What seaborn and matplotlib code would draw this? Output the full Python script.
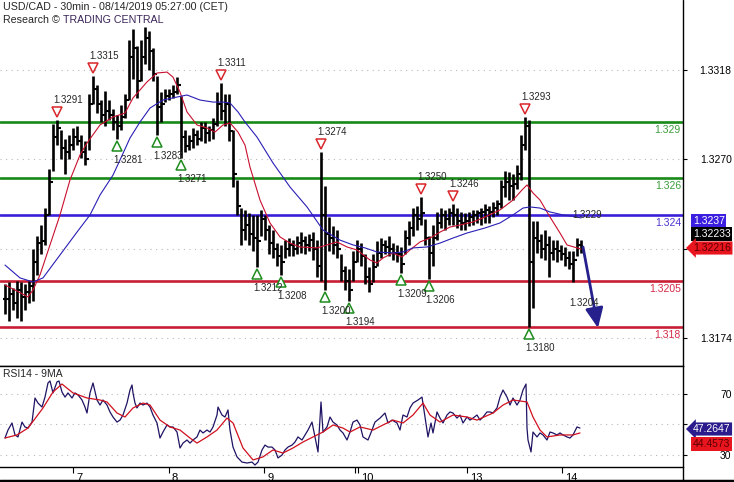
import numpy as np
import matplotlib.pyplot as plt
import matplotlib.transforms as mtransforms
from matplotlib.lines import Line2D
import seaborn as sns

# USD/CAD 30min, one entry per two bars (pips above 1.3000)
bar_high = [203, 204, 201, 205, 204, 203, 205, 222, 229, 235,
            244, 265, 289, 291, 286, 281, 283, 287, 288, 283,
            280, 305, 315, 310, 302, 307, 302, 297, 294, 299,
            305, 334, 340, 331, 334, 341, 339, 330, 315, 306,
            308, 308, 310, 314, 304, 286, 283, 287, 286, 290,
            290, 288, 292, 306, 311, 305, 305, 286, 259, 244,
            243, 241, 240, 240, 243, 240, 235, 232, 225, 224,
            227, 228, 227, 229, 231, 229, 230, 231, 227, 274,
            256, 239, 234, 232, 219, 213, 211, 221, 227, 225,
            219, 212, 219, 226, 228, 227, 229, 225, 224, 223,
            232, 237, 244, 245, 250, 238, 229, 235, 242, 244,
            243, 244, 246, 244, 242, 241, 242, 243, 243, 244,
            246, 245, 247, 248, 259, 264, 263, 262, 267, 283,
            293, 291, 237, 237, 230, 232, 229, 227, 227, 224,
            223, 221, 221, 228, 227]
bar_low = [187, 183, 189, 185, 183, 189, 193, 194, 208, 219,
           224, 240, 264, 278, 270, 262, 270, 275, 278, 271,
           267, 275, 300, 295, 290, 288, 291, 286, 281, 286,
           292, 302, 313, 303, 312, 321, 318, 312, 283, 290,
           301, 302, 303, 305, 271, 274, 275, 276, 278, 280,
           279, 280, 281, 288, 291, 288, 280, 255, 240, 224,
           227, 224, 221, 212, 229, 227, 219, 217, 213, 208,
           217, 218, 218, 219, 220, 219, 221, 216, 207, 205,
           200, 221, 219, 217, 205, 200, 194, 205, 215, 213,
           203, 199, 204, 213, 217, 219, 218, 216, 215, 209,
           219, 224, 229, 232, 235, 224, 206, 213, 227, 233,
           232, 235, 235, 233, 232, 232, 234, 235, 236, 235,
           236, 236, 239, 240, 244, 250, 248, 248, 254, 259,
           275, 180, 190, 220, 217, 216, 207, 216, 215, 216,
           213, 211, 204, 218, 220]
bar_close = [195, 198, 193, 200, 196, 199, 202, 215, 225, 226,
             240, 258, 282, 287, 276, 274, 278, 282, 280, 274,
             270, 300, 308, 300, 294, 296, 294, 290, 288, 293,
             302, 325, 330, 312, 325, 335, 328, 316, 298, 300,
             304, 305, 306, 310, 282, 277, 280, 283, 281, 287,
             284, 286, 289, 300, 296, 300, 285, 262, 245, 232,
             235, 230, 228, 226, 238, 232, 225, 222, 218, 215,
             222, 224, 222, 225, 226, 224, 227, 222, 213, 240,
             230, 228, 224, 222, 210, 205, 200, 215, 222, 218,
             207, 203, 212, 220, 224, 223, 222, 220, 219, 214,
             228, 233, 240, 238, 241, 228, 220, 228, 236, 240,
             238, 241, 240, 237, 236, 237, 239, 240, 241, 242,
             243, 242, 244, 246, 255, 258, 256, 257, 262, 278,
             288, 215, 228, 226, 222, 224, 220, 222, 221, 219,
             217, 214, 216, 224, 223.3]

# moving averages on price (pips above 1.3000)
ma_fast_x = [0, 2.5, 5.75, 7, 8.75, 11.25, 13.75, 16.25, 18.75, 20.5,
             23.75, 27, 30, 32, 35.5, 38, 40.5, 42, 43.75, 45.5,
             48, 50.5, 52.5, 54.5, 56.25, 58.25, 60, 61.25, 63.75, 66.25,
             68.75, 71.25, 73.75, 78, 80.5, 83, 85.5, 88, 91.25, 93,
             94.5, 97, 99.25, 101.25, 103.75, 106.25, 108.75, 111.25, 113.75, 117,
             120, 123.75, 127, 129.25, 130.5, 132, 133.75, 136.25, 138.75, 140.5,
             143, 144]
ma_fast = [202.6, 199.9, 196.2, 199.9, 208.0, 224.1, 240.2, 259.0, 272.4, 278.8,
           288.5, 292.8, 294.9, 303.0, 311.6, 316.4, 316.9, 314.2, 306.2, 295.5,
           288.5, 286.9, 284.7, 288.5, 289.6, 284.7, 277.7, 265.9, 248.2, 235.9,
           228.4, 225.1, 223.0, 222.5, 224.1, 225.7, 223.0, 221.4, 216.0, 214.4,
           217.1, 219.8, 217.6, 221.4, 225.7, 227.8, 231.0, 233.7, 234.8, 236.4,
           239.1, 242.9, 248.2, 253.6, 256.3, 252.0, 248.2, 239.1, 230.5, 224.1,
           222.5, 221.9]
ma_slow_x = [0, 3.75, 7, 9.5, 13.75, 18, 21.25, 23.75, 27, 28.75,
             31.25, 33.75, 36.25, 39.5, 43, 45.5, 48.75, 52, 54.5, 56.25,
             58.25, 60, 63, 67, 71.25, 75.5, 79.5, 83.75, 87, 90,
             93, 97, 99.5, 102, 105.5, 108.75, 112, 115.5, 120, 123.75,
             127, 129.5, 131.25, 133.75, 136.25, 139.5, 143, 144]
ma_slow = [213.3, 206.4, 204.2, 206.4, 218.7, 231.0, 240.2, 250.9, 261.6, 269.7,
           281.5, 290.1, 297.6, 301.9, 303.5, 304.6, 301.9, 300.8, 300.8, 300.3,
           295.5, 290.1, 282.0, 268.1, 255.2, 244.5, 232.1, 226.7, 224.1, 222.5,
           220.3, 219.8, 220.3, 222.5, 223.0, 225.1, 227.8, 230.5, 233.2, 235.9,
           240.2, 243.9, 244.5, 243.9, 241.8, 240.2, 239.1, 238.6]

# RSI14 and its 9MA
rsi_x = [0, 0.75, 1.75, 2.5, 3.25, 4.25, 5, 5.75, 6.75, 7.5,
         8.25, 9.25, 10, 10.75, 11.25, 12, 13, 13.5, 14.25, 15,
         15.75, 16.75, 17.5, 18.25, 19.25, 20, 20.5, 21.25, 22, 23,
         23.75, 24.5, 25.5, 26.25, 27, 28, 28.75, 29.5, 30.5, 31.25,
         31.75, 32, 32.5, 33, 33.75, 34.5, 35.5, 36.25, 37, 38,
         38.75, 39.5, 40.5, 41.25, 42, 43, 43.75, 44.5, 45.5, 46.25,
         47, 48, 48.75, 49.5, 50.5, 51.25, 52, 53, 53.25, 54.25,
         55, 55.75, 56.25, 57, 58, 59.25, 60.5, 61.75, 62.5, 63.25,
         64.25, 65, 65.75, 66.75, 67.5, 68.25, 69.25, 70, 70.75, 71.75,
         72.5, 73.25, 74.25, 75, 75.75, 76.75, 77.5, 78.25, 79, 79.5,
         80.5, 81.25, 82, 83, 83.75, 84.5, 85.5, 86.25, 87, 88,
         88.75, 89.5, 90.75, 91.75, 92.5, 93.75, 95, 95.75, 96.75, 98,
         98.75, 99.5, 100.5, 101.25, 102, 103.25, 104.25, 105, 105.75, 106.5,
         107, 108, 108.75, 109.5, 110.5, 111.25, 112, 113, 113.75, 114.5,
         115.5, 116.25, 117, 118, 118.75, 119.5, 120.5, 121.25, 122, 123,
         123.75, 124.5, 125.5, 126.25, 127, 128, 128.75, 129.5, 130.25, 130.5,
         130.75, 131.5, 132, 133, 133.75, 134.5, 135.5, 136.25, 137, 138,
         138.75, 139.5, 140.5, 141.25, 142, 143, 143.75]
rsi = [41.1, 46.3, 50.9, 43.1, 41.8, 51.5, 48.3, 47.6, 51.5, 67.2,
       63.9, 61.3, 67.8, 77.0, 78.3, 70.5, 77.7, 78.3, 71.1, 67.8,
       70.5, 67.2, 70.5, 69.2, 65.9, 61.3, 57.4, 70.5, 77.0, 65.9,
       62.6, 65.9, 62.6, 58.1, 54.8, 51.5, 52.8, 56.1, 63.9, 72.4,
       75.7, 70.5, 63.9, 60.7, 63.9, 62.6, 63.9, 61.3, 56.1, 50.9,
       41.1, 45.0, 49.6, 48.3, 48.3, 45.0, 34.6, 37.8, 39.8, 37.8,
       39.8, 41.8, 46.3, 44.4, 46.3, 45.0, 48.3, 56.1, 61.3, 56.1,
       54.8, 59.4, 46.3, 35.2, 28.8, 25.4, 24.8, 25.4, 23.5, 25.4,
       33.3, 36.5, 35.2, 35.2, 33.3, 28.1, 30.0, 33.3, 35.2, 36.5,
       38.5, 41.8, 39.8, 43.1, 46.3, 51.5, 41.8, 32.0, 64.6, 45.0,
       48.3, 54.8, 51.5, 49.6, 46.3, 44.4, 39.8, 45.0, 51.5, 52.8,
       49.6, 41.8, 39.8, 46.3, 51.5, 54.1, 57.4, 50.9, 52.8, 50.9,
       46.3, 56.1, 54.8, 60.7, 63.9, 65.9, 67.8, 54.8, 41.8, 50.9,
       44.4, 58.1, 54.1, 50.9, 56.1, 58.1, 57.4, 54.1, 56.1, 50.9,
       54.8, 52.8, 54.1, 56.1, 52.8, 54.8, 58.1, 58.1, 57.4, 60.7,
       67.8, 72.4, 67.8, 62.6, 67.2, 62.6, 65.9, 72.4, 76.3, 47.6,
       39.8, 32.0, 45.0, 41.8, 44.4, 43.1, 39.8, 45.0, 44.4, 43.1,
       44.4, 43.1, 41.8, 41.1, 43.1, 48.3, 47.6]
rsi_ma_x = [0, 3, 5.75, 9.5, 12, 14.25, 17, 20.5, 23.75, 25.5,
            28, 30, 32, 34.5, 36.25, 38.75, 41.25, 43.75, 46.25, 48,
            50.5, 53, 55.5, 57, 59.5, 62, 64.5, 67, 69.5, 72,
            74.5, 77, 79.5, 82, 84.5, 86.25, 88.75, 92, 94.5, 97,
            99.5, 102, 104.5, 106.25, 108.75, 112, 115.5, 118, 122, 124.5,
            127, 130.5, 132, 133.75, 135.5, 138.75, 142, 143.75]
rsi_ma = [41.1, 43.1, 47.6, 60.7, 71.1, 76.3, 70.5, 67.2, 65.9, 64.6,
          57.4, 54.8, 60.7, 63.9, 62.6, 52.8, 48.3, 46.3, 41.1, 37.8,
          41.8, 46.3, 54.1, 50.9, 34.6, 26.8, 28.8, 33.3, 31.3, 34.6,
          38.5, 41.8, 45.0, 49.6, 47.6, 45.0, 48.3, 46.3, 49.6, 52.8,
          50.9, 56.1, 63.9, 56.1, 51.5, 56.1, 54.8, 52.8, 57.4, 62.6,
          65.9, 64.6, 54.8, 46.3, 41.8, 43.1, 43.1, 44.4]

# swing highs / lows marked on the chart (pips above 1.3000)
peak_x = [13, 22, 54, 79, 104, 112, 130]
peak_val = [291, 315, 311, 274, 250, 246, 293]
trough_x = [28, 38, 44, 63, 69, 80, 86, 99, 106, 131]
trough_val = [281, 283, 271, 212, 208, 200, 194, 209, 206, 180]

levels = [1.3290, 1.3260, 1.3240, 1.3205, 1.3180]
level_labels = ['1.329', '1.326', '1.324', '1.3205', '1.318']
level_colors = ['#178a17', '#178a17', '#3a1fd8', '#c81e34', '#c81e34']
level_text_colors = ['#3c9c3c', '#3c9c3c', '#4a35d0', '#d42a48', '#d42a48']

price_grid = [1.3174, 1.3222, 1.3270, 1.3318]
price_grid_labels = ['1.3174', '', '1.3270', '1.3318']
rsi_grid = [30, 50, 70]
rsi_grid_labels = ['30', '', '70']
day_pos = [17, 41, 64.75, 88.25, 115.5, 139.25]
day_labels = ['7', '8', '9', '10', '13', '14']

arrow_from = (144.5, 223.0)
arrow_to = (148.25, 179.5)

W, H = 734, 482
sns.set_style('white')
plt.rcParams['font.family'] = ['Liberation Sans', 'DejaVu Sans']


def to_price(v):
    return 1.3 + np.asarray(v, dtype=float) / 1e4


fig = plt.figure(figsize=(W / 100, H / 100), dpi=100)
ax = fig.add_axes([0, 1 - 366 / H, 683 / W, 366 / H])
ax2 = fig.add_axes([0, 1 - 467 / H, 683 / W, 101 / H])

# --- price panel ---
x = np.arange(len(bar_high))
hi, lo, cl = to_price(bar_high), to_price(bar_low), to_price(bar_close)
op = np.r_[cl[0], cl[:-1]]
ax.vlines(x, lo, hi, color='black', lw=1.9, zorder=3)
ax.hlines(op, x - 0.6, x, color='black', lw=1.5, zorder=3)
ax.hlines(cl, x, x + 0.6, color='black', lw=1.5, zorder=3)

sns.lineplot(x=ma_fast_x, y=to_price(ma_fast), ax=ax, color='#c8102e', lw=0.8,
             sort=False, estimator=None, zorder=4)
sns.lineplot(x=ma_slow_x, y=to_price(ma_slow), ax=ax, color='#2a1fb4', lw=0.8,
             sort=False, estimator=None, zorder=4)

for lv, lab, c, tc in zip(levels, level_labels, level_colors, level_text_colors):
    ax.axhline(lv, color=c, lw=1.9, zorder=2)
    ax.annotate(lab, xy=(0.997, lv), xycoords=ax.get_yaxis_transform(),
                xytext=(0, -8), textcoords='offset pixels', ha='right',
                va='center', fontsize=7.5, color=tc)

up = mtransforms.offset_copy(ax.transData, fig=fig, x=0, y=8, units='dots')
down = mtransforms.offset_copy(ax.transData, fig=fig, x=0, y=-7, units='dots')
ax.plot(peak_x, to_price(peak_val), ls='none', marker='v', ms=6.5,
        mfc='white', mec='#d8262b', mew=1.1, transform=up, zorder=5)
ax.plot(trough_x, to_price(trough_val), ls='none', marker='^', ms=6.5,
        mfc='white', mec='#1d8c1d', mew=1.1, transform=down, zorder=5)
for xx, vv in zip(peak_x, peak_val):
    ax.annotate(f'{to_price(vv):.4f}', (xx, to_price(vv)),
                xytext=(-4, 20), textcoords='offset pixels', ha='left',
                va='center', fontsize=7, zorder=6)
for xx, vv in zip(trough_x, trough_val):
    ax.annotate(f'{to_price(vv):.4f}', (xx, to_price(vv)),
                xytext=(-4, -21), textcoords='offset pixels', ha='left',
                va='center', fontsize=7, zorder=6)

ax.annotate('', xy=(arrow_to[0], to_price(arrow_to[1])),
            xytext=(arrow_from[0], to_price(arrow_from[1])),
            arrowprops=dict(arrowstyle='-|>,head_length=1.0,head_width=0.45',
                            color='#25208c', lw=2.0, shrinkA=0, shrinkB=0,
                            mutation_scale=12), zorder=6)
ax.text(141.8, 1.3240, '1.3229', fontsize=7, va='center', ha='left', zorder=6)
ax.text(141.0, 1.3193, '1.3204', fontsize=7, va='center', ha='left', zorder=6)

ax.set_xlim(-1.25, 169.5)
ax.set_ylim(1.31591, 1.33556)
ax.set_xticks([])
ax.set_yticks(price_grid)
ax.set_yticklabels(price_grid_labels)
ax.yaxis.tick_right()
ax.tick_params(axis='y', direction='out', length=3, width=0.8, pad=32,
               labelsize=7.5, colors='black')
for t in ax.get_yticklabels():
    t.set_ha('right')
ax.yaxis.grid(True, ls=(0, (1, 4)), color='#b8b8b8', lw=0.8)
ax.set_axisbelow(True)
for s in ['left', 'top', 'right']:
    ax.spines[s].set_visible(False)
ax.spines['bottom'].set_color('black')
ax.spines['bottom'].set_linewidth(1)

# --- RSI panel ---
sns.lineplot(x=rsi_x, y=rsi, ax=ax2, color='#1e1464', lw=0.9,
             sort=False, estimator=None)
sns.lineplot(x=rsi_ma_x, y=rsi_ma, ax=ax2, color='#d0101e', lw=0.9,
             sort=False, estimator=None)
ax2.set_xlim(-1.25, 169.5)
ax2.set_ylim(22.2, 88.07)
ax2.set_yticks(rsi_grid)
ax2.set_yticklabels(rsi_grid_labels)
ax2.yaxis.tick_right()
ax2.tick_params(axis='y', direction='out', length=3, width=0.8, pad=32,
                labelsize=7.5, colors='black')
for t in ax2.get_yticklabels():
    t.set_ha('right')
ax2.yaxis.grid(True, ls=(0, (1, 4)), color='#b8b8b8', lw=0.8)
ax2.set_xticks(day_pos)
ax2.set_xticklabels(day_labels)
ax2.set_xticks([87.4], minor=True)
ax2.tick_params(axis='x', which='both', direction='out', length=4, width=0.8,
                pad=0, labelsize=8, colors='black', bottom=True)
shift = mtransforms.ScaledTranslation(3 / 100, 0, fig.dpi_scale_trans)
for t in ax2.get_xticklabels():
    t.set_ha('left')
    t.set_transform(t.get_transform() + shift)
for s in ['left', 'right']:
    ax2.spines[s].set_visible(False)
for s in ['top', 'bottom']:
    ax2.spines[s].set_color('black')
    ax2.spines[s].set_linewidth(1)
ax2.set_xlabel('')
ax2.set_ylabel('')
ax.set_xlabel('')
ax.set_ylabel('')
ax2.text(3 / 683, 1 - 8 / 101, 'RSI14 - 9MA', transform=ax2.transAxes,
         fontsize=7.5, va='center', ha='left')

# frame lines
fig.add_artist(Line2D([683 / W, 683 / W], [0, 1], color='black', lw=1,
                      transform=fig.transFigure))
fig.add_artist(Line2D([0, 1], [1.5 / H, 1.5 / H], color='black', lw=2.5,
                      transform=fig.transFigure))

# titles
fig.text(3 / W, 1 - 7 / H, 'USD/CAD - 30min - 08/14/2019 05:27:00 (CET)',
         fontsize=7.7, va='center', ha='left')
t1 = fig.text(3 / W, 1 - 20 / H, 'Research \u00a9 ', fontsize=7.7, va='center',
              ha='left')
ax.annotate('TRADING CENTRAL', xy=(1, 0.5), xycoords=t1, va='center',
            ha='left', fontsize=7.7, color='#3a2458', annotation_clip=False)


# value tags on the right edge
def tag(px_x, px_y, s, fc, tc, style='square'):
    fig.text(px_x / W, 1 - px_y / H, s, color=tc, fontsize=7.5, ha='left',
             va='center', zorder=10,
             bbox=dict(boxstyle=f'{style},pad=0.15', fc=fc, ec='none'))


tag(693, 221, '1.3237', '#3b1fe0', 'white')
tag(693, 234, '1.32233', 'black', 'white')
tag(693, 248, '1.32216', '#e8141e', '#5a0000', 'larrow')
tag(693, 429, '47.2647', '#2a1c8c', 'white', 'larrow')
tag(693, 444, '44.4573', '#e8141e', '#5a0000')

fig.savefig('out.png', dpi=100)
